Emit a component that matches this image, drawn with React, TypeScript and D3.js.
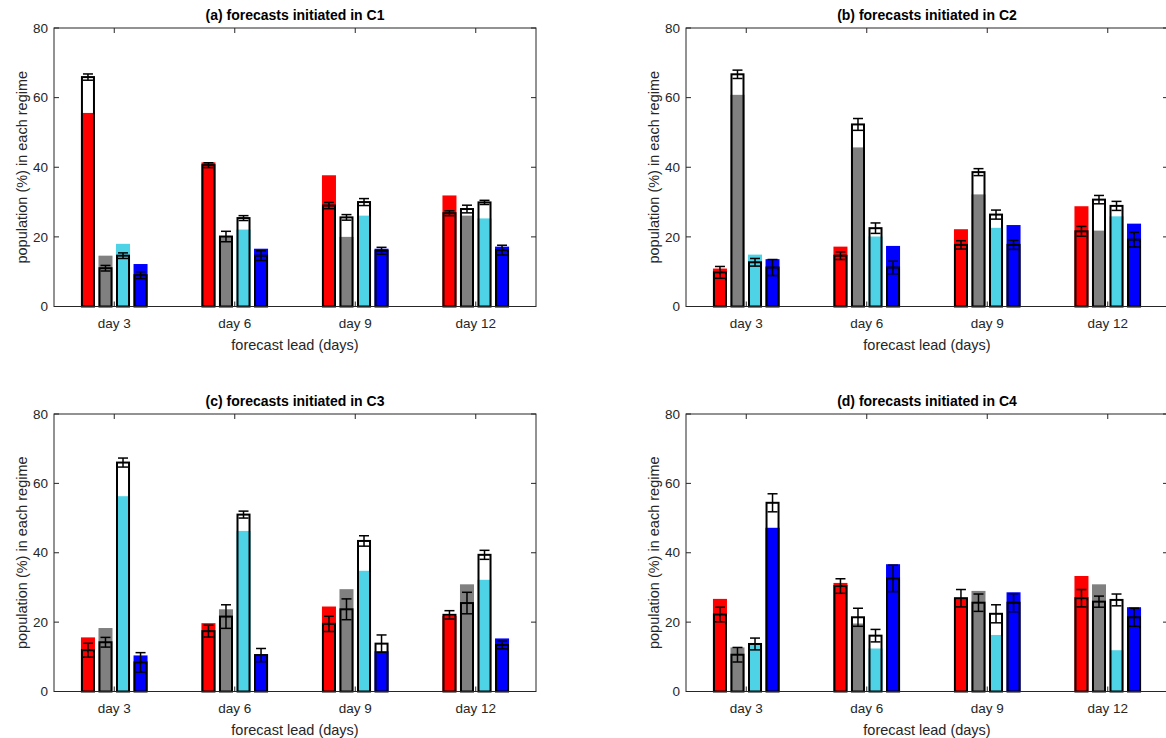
import React from "react";
import * as d3 from "d3";

const leadDays = ["day 3", "day 6", "day 9", "day 12"];
const regimeColors = ["#ff0000", "#808080", "#4dd2e6", "#0000ff"];
const yTicks = [0, 20, 40, 60, 80];
const panelTitles = [
  "(a) forecasts initiated in C1",
  "(b) forecasts initiated in C2",
  "(c) forecasts initiated in C3",
  "(d) forecasts initiated in C4",
];

// rows = lead day, cols = regime (red, grey, cyan, blue)
// filled = coloured bar, outline = black-edged bar, err = half-width of error bar
const c1Filled = [
  [55.6, 14.6, 18.0, 12.2],
  [41.4, 20.0, 22.1, 16.6],
  [37.7, 20.0, 26.1, 16.6],
  [31.9, 26.1, 25.3, 17.2],
];
const c1Outline = [
  [65.9, 11.0, 14.6, 9.0],
  [40.6, 20.1, 25.4, 14.6],
  [29.0, 25.6, 30.0, 16.0],
  [26.8, 28.0, 29.9, 16.2],
];
const c1Err = [
  [0.9, 0.8, 0.8, 1.0],
  [0.7, 1.5, 0.7, 1.4],
  [0.9, 0.8, 1.0, 1.0],
  [0.7, 1.1, 0.6, 1.4],
];

const c2Filled = [
  [10.9, 60.8, 14.9, 13.6],
  [17.2, 45.7, 20.1, 17.4],
  [22.2, 32.2, 22.6, 23.4],
  [28.8, 21.8, 25.9, 23.8],
];
const c2Outline = [
  [9.8, 66.7, 12.7, 11.2],
  [14.6, 52.3, 22.5, 11.2],
  [17.7, 38.6, 26.4, 17.7],
  [21.6, 30.7, 28.9, 19.2],
];
const c2Err = [
  [1.7, 1.2, 1.1, 2.3],
  [1.1, 1.7, 1.5, 1.8],
  [1.2, 1.0, 1.3, 1.3],
  [1.4, 1.2, 1.3, 2.1],
];

const c3Filled = [
  [15.6, 18.3, 56.3, 10.4],
  [19.7, 23.7, 46.3, 10.7],
  [24.5, 29.5, 34.8, 11.6],
  [21.8, 30.9, 32.2, 15.3],
];
const c3Outline = [
  [11.9, 14.2, 66.0, 8.4],
  [17.4, 21.6, 51.0, 10.5],
  [19.5, 23.7, 43.4, 13.8],
  [22.1, 25.5, 39.4, 13.4],
];
const c3Err = [
  [2.0, 1.4, 1.3, 2.8],
  [1.7, 3.4, 1.0, 1.9],
  [2.2, 3.0, 1.5, 2.5],
  [1.2, 3.1, 1.3, 1.1],
];

const c4Filled = [
  [26.7, 12.7, 13.5, 47.2],
  [31.3, 19.6, 12.4, 36.7],
  [26.8, 29.0, 16.3, 28.6],
  [33.3, 30.9, 11.9, 24.3],
];
const c4Outline = [
  [22.2, 10.6, 13.7, 54.4],
  [30.4, 21.4, 16.1, 32.6],
  [26.9, 25.6, 22.4, 25.6],
  [26.9, 25.9, 26.4, 21.4],
];
const c4Err = [
  [2.1, 2.1, 1.7, 2.6],
  [2.1, 2.6, 1.8, 3.8],
  [2.5, 2.5, 2.6, 2.6],
  [2.5, 1.6, 1.7, 2.6],
];

const FONT = "'Liberation Sans', Arial, Helvetica, sans-serif";
const INK = "#262626";

type PanelProps = {
  x0: number;
  x1: number;
  yTop: number;
  yBot: number;
  title: string;
  filled: number[][];
  outline: number[][];
  err: number[][];
};

const Panel = ({ x0, x1, yTop, yBot, title, filled, outline, err }: PanelProps) => {
  const x = d3.scaleLinear().domain([0.5, 4.5]).range([x0, x1]);
  const y = d3.scaleLinear().domain([0, 80]).range([yBot, yTop]);
  const step = 0.8 * (4 / 5.5) / 4; // MATLAB grouped bar spacing
  const bw = (x(1 + step * 0.8) - x(1));
  const tick = 5;
  const cx = (x0 + x1) / 2;

  const bars = leadDays.flatMap((_, i) =>
    regimeColors.map((col, j) => {
      const c = x(i + 1 + (j - 1.5) * step);
      return { i, j, c, col, f: filled[i][j], o: outline[i][j], e: err[i][j] };
    })
  );

  return (
    <g>
      <text x={cx} y={yTop - 8} textAnchor="middle" fontFamily={FONT} fontSize={14} fontWeight="bold" fill="#000">
        {title}
      </text>
      {/* white body of outline bars */}
      {bars.map((b) => (
        <rect key={"w" + b.i + b.j} x={b.c - bw / 2} y={y(b.o)} width={bw} height={yBot - y(b.o)} fill="#fff" />
      ))}
      {/* coloured bars */}
      {bars.map((b) => (
        <rect key={"f" + b.i + b.j} x={b.c - bw / 2} y={y(b.f)} width={bw} height={yBot - y(b.f)} fill={b.col} />
      ))}
      {/* outline */}
      {bars.map((b) => (
        <rect
          key={"o" + b.i + b.j}
          x={b.c - bw / 2 + 1}
          y={y(b.o)}
          width={bw - 2}
          height={yBot - y(b.o)}
          fill="none"
          stroke="#000"
          strokeWidth={2}
        />
      ))}
      {/* error bars */}
      {bars.map((b) => (
        <g key={"e" + b.i + b.j} stroke="#000" strokeWidth={1.5}>
          <line x1={b.c} x2={b.c} y1={y(b.o + b.e)} y2={y(b.o - b.e)} />
          <line x1={b.c - 5} x2={b.c + 5} y1={y(b.o + b.e)} y2={y(b.o + b.e)} />
          <line x1={b.c - 5} x2={b.c + 5} y1={y(b.o - b.e)} y2={y(b.o - b.e)} />
        </g>
      ))}
      {/* frame */}
      <rect x={x0} y={yTop} width={x1 - x0} height={yBot - yTop} fill="none" stroke={INK} strokeWidth={1} />
      {yTicks.map((t) => (
        <g key={"yt" + t}>
          <line x1={x0} x2={x0 + tick} y1={y(t)} y2={y(t)} stroke={INK} />
          <line x1={x1} x2={x1 - tick} y1={y(t)} y2={y(t)} stroke={INK} />
          <text x={x0 - 6} y={y(t)} dy="0.35em" textAnchor="end" fontFamily={FONT} fontSize={13.5} fill={INK}>
            {t}
          </text>
        </g>
      ))}
      {leadDays.map((d, i) => (
        <g key={d}>
          <line x1={x(i + 1)} x2={x(i + 1)} y1={yTop} y2={yTop + tick} stroke={INK} />
          <line x1={x(i + 1)} x2={x(i + 1)} y1={yBot} y2={yBot - tick} stroke={INK} />
          <text x={x(i + 1)} y={yBot + 17} dy="0.35em" textAnchor="middle" fontFamily={FONT} fontSize={13.5} fill={INK}>
            {d}
          </text>
        </g>
      ))}
      <text x={cx} y={yBot + 38} dy="0.35em" textAnchor="middle" fontFamily={FONT} fontSize={14.5} fill={INK}>
        forecast lead (days)
      </text>
      <text
        transform={`translate(${x0 - 32},${(yTop + yBot) / 2}) rotate(-90)`}
        dy="0.35em"
        textAnchor="middle"
        fontFamily={FONT}
        fontSize={14.5}
        fill={INK}
      >
        population (%) in each regime
      </text>
    </g>
  );
};

export default function App() {
  const cols = [
    [54, 536],
    [686, 1168],
  ];
  const rows = [
    [28, 306.5],
    [414, 691.5],
  ];
  const data = [
    [c1Filled, c1Outline, c1Err],
    [c2Filled, c2Outline, c2Err],
    [c3Filled, c3Outline, c3Err],
    [c4Filled, c4Outline, c4Err],
  ];
  return (
    <svg width={1166} height={738} style={{ position: "absolute", left: 0, top: 0, background: "#fff" }}>
      <rect width={1166} height={738} fill="#fff" />
      {data.map(([f, o, e], k) => (
        <Panel
          key={k}
          x0={cols[k % 2][0]}
          x1={cols[k % 2][1]}
          yTop={rows[Math.floor(k / 2)][0]}
          yBot={rows[Math.floor(k / 2)][1]}
          title={panelTitles[k]}
          filled={f}
          outline={o}
          err={e}
        />
      ))}
    </svg>
  );
}
